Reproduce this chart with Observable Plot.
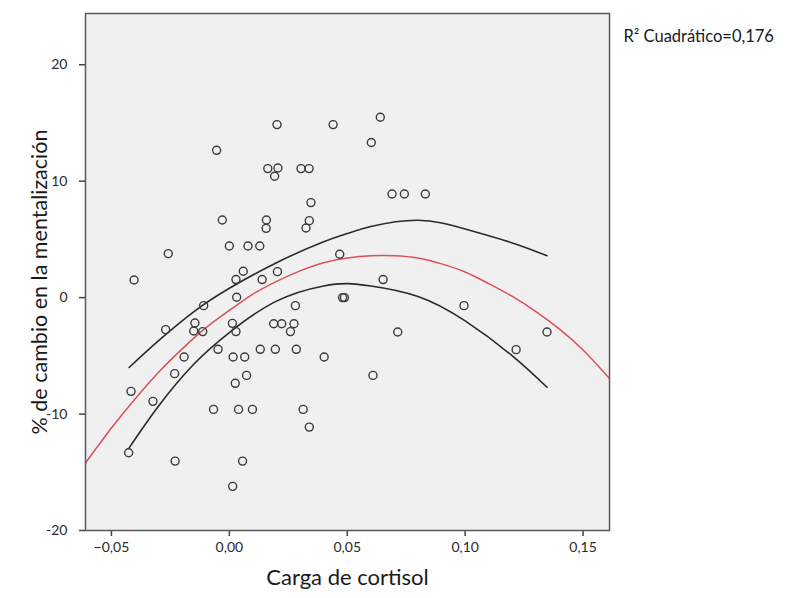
<!DOCTYPE html>
<html>
<head>
<meta charset="utf-8">
<script src="https://cdn.jsdelivr.net/npm/d3@7"></script>
<script src="https://cdn.jsdelivr.net/npm/@observablehq/plot@0.6"></script>
<style>
  html, body { margin: 0; padding: 0; background: #ffffff; }
  #chart svg { display: block; font-family: Lato, "Open Sans", sans-serif; }
</style>
</head>
<body>
<div id="chart"></div>
<script>
// Observed cases: cortisol load vs. % change in mentalization
const cortisol = [
  0.0202, 0.0440, -0.0054, 0.0163, 0.0206, 0.0192, 0.0304, 0.0338, 0.0640, 0.0602,
  0.0690, 0.0742, 0.0831, 0.0346, -0.0030, 0.0157, 0.0156, 0.0339, 0.0325, -0.0259,
  -0.0404, 0.0000, 0.0079, 0.0129, 0.0468, 0.0059, 0.0028, 0.0139, 0.0204, 0.0031,
  0.0480, 0.0488, -0.0109, 0.0280, -0.0270, -0.0146, -0.0151, -0.0113, 0.0013, 0.0028,
  0.0188, 0.0222, 0.0274, 0.0259, -0.0048, 0.0131, 0.0195, 0.0284, -0.0192, 0.0016,
  0.0065, 0.0402, -0.0232, 0.0652, 0.0995, 0.0714, 0.1347, 0.1216, -0.0417, -0.0324,
  -0.0427, -0.0230, 0.0025, 0.0073, -0.0067, 0.0039, 0.0098, 0.0313, 0.0339, 0.0056,
  0.0014, 0.0609
];
const mentalizacion = [
  14.86, 14.86, 12.65, 11.08, 11.13, 10.42, 11.08, 11.08, 15.49, 13.32,
  8.90, 8.90, 8.90, 8.16, 6.67, 6.67, 5.95, 6.61, 5.98, 3.78,
  1.51, 4.43, 4.43, 4.43, 3.72, 2.26, 1.55, 1.55, 2.23, 0.03,
  0.00, 0.00, -0.69, -0.69, -2.75, -2.18, -2.87, -2.92, -2.21, -2.92,
  -2.24, -2.24, -2.24, -2.92, -4.44, -4.44, -4.44, -4.44, -5.10, -5.10,
  -5.10, -5.10, -6.53, 1.55, -0.69, -2.95, -2.95, -4.47, -8.05, -8.91,
  -13.32, -14.04, -7.36, -6.68, -9.60, -9.60, -9.60, -9.60, -11.12, -14.04,
  -16.21, -6.68
];

// Quadratic fit line (red), sampled along the cortisol axis
const fitX = [-0.061, -0.05, -0.04, -0.03, -0.02, -0.01, 0.00, 0.01, 0.02, 0.03, 0.04, 0.05, 0.06, 0.07, 0.08, 0.09, 0.10, 0.11, 0.12, 0.13, 0.14, 0.15, 0.161];
const fitY = [-14.2, -11.2, -8.7, -6.4, -4.4, -2.6, -1.1, 0.3, 1.4, 2.3, 3.0, 3.4, 3.6, 3.6, 3.4, 2.9, 2.2, 1.2, 0.1, -1.2, -2.7, -4.5, -6.9];

// Confidence band for the mean (black), over the observed range
const ciX = [-0.0425, -0.03, -0.015, 0.00, 0.02, 0.04, 0.05, 0.06, 0.08, 0.10, 0.12, 0.1347];
const ciUpper = [-6.0, -3.7, -1.2, 0.8, 3.0, 4.8, 5.5, 6.1, 6.65, 5.9, 4.7, 3.6];
const ciLower = [-12.9, -9.3, -5.7, -3.0, -0.3, 1.0, 1.2, 1.0, 0.1, -2.0, -5.0, -7.7];

// Axis ticks
const xTicks = [-0.05, 0.00, 0.05, 0.10, 0.15];
const yTicks = [-20, -10, 0, 10, 20];

const xLabel = "Carga de cortisol";
const yLabel = "% de cambio en la mentalización";
const legendText = "R\u00B2 Cuadrático=0,176";

const points = cortisol.map((x, i) => ({x, y: mentalizacion[i]}));
const fit = fitX.map((x, i) => ({x, y: fitY[i]}));
const upper = ciX.map((x, i) => ({x, y: ciUpper[i]}));
const lower = ciX.map((x, i) => ({x, y: ciLower[i]}));

const comma = d => d3.format(".2f")(d).replace(".", ",");

const chart = Plot.plot({
  width: 787,
  height: 598,
  marginLeft: 85,
  marginRight: 178,
  marginTop: 13,
  marginBottom: 68,
  style: {fontFamily: "Lato, 'Open Sans', sans-serif", background: "#ffffff", color: "#222"},
  x: {domain: [-0.061, 0.1612], ticks: xTicks, tickFormat: comma, label: null},
  y: {domain: [-20, 24.4], ticks: yTicks, tickFormat: d => String(d), label: null},
  marks: [
    Plot.frame({fill: "#f0f0f0", stroke: null}),
    Plot.axisX({ticks: xTicks, tickFormat: comma, tickSize: 6, tickPadding: 6, fontSize: 14, stroke: "#444", strokeWidth: 1.5, color: "#2a2a2a"}),
    Plot.axisY({ticks: yTicks, tickFormat: d => String(d), tickSize: 6, tickPadding: 12, fontSize: 14, stroke: "#444", strokeWidth: 1.5, color: "#2a2a2a"}),
    Plot.line(upper, {x: "x", y: "y", curve: "natural", stroke: "#2a2a2a", strokeWidth: 1.6}),
    Plot.line(lower, {x: "x", y: "y", curve: "natural", stroke: "#2a2a2a", strokeWidth: 1.6}),
    Plot.line(fit, {x: "x", y: "y", curve: "natural", stroke: "#d9505a", strokeWidth: 1.5}),
    Plot.dot(points, {x: "x", y: "y", r: 4, stroke: "#3a3a3a", strokeWidth: 1.4, fill: "none"}),
    Plot.frame({stroke: "#5a5a5a", strokeWidth: 1.5}),
    Plot.text([xLabel], {frameAnchor: "bottom", dy: 54, fontSize: 22, fill: "#1a1a1a", text: d => d}),
    Plot.text([yLabel], {frameAnchor: "left", dx: -45, dy: 10, rotate: -90, textAnchor: "middle", fontSize: 21.5, fill: "#1a1a1a", text: d => d}),
    Plot.text([legendText], {frameAnchor: "top-right", dx: 14, dy: 17, textAnchor: "start", fontSize: 16.5, fill: "#1a1a1a", text: d => d})
  ]
});

document.getElementById("chart").appendChild(chart);
</script>
</body>
</html>
